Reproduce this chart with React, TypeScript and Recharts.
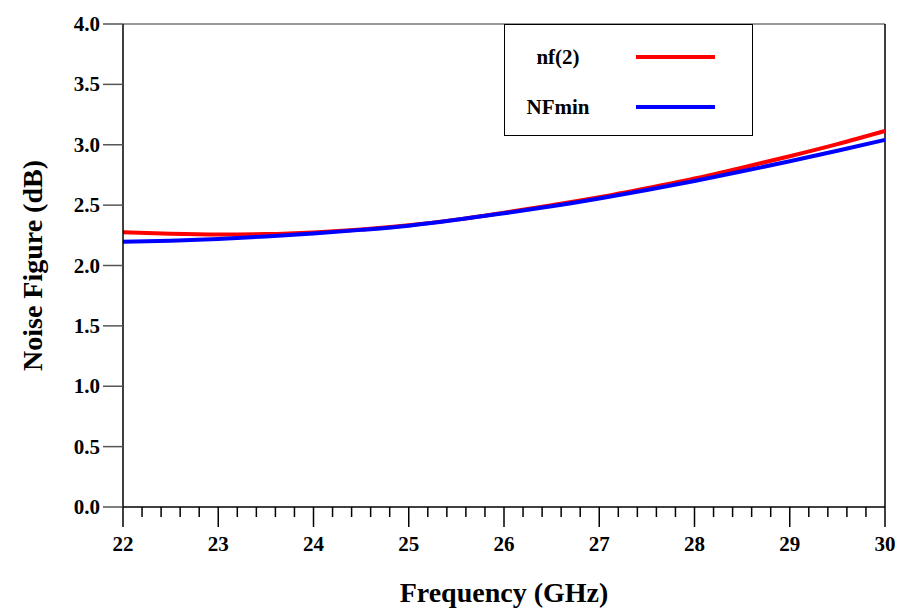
import React from 'react';
import { Line, LineChart, ReferenceLine, XAxis, YAxis } from 'recharts';

// frequency points (GHz)
const freq = [22, 22.5, 23, 23.5, 24, 24.5, 25, 25.5, 26, 26.5, 27, 27.5, 28, 28.5, 29, 29.5, 30];
// nf(2) in dB
const nf2 = [2.275, 2.262, 2.256, 2.26, 2.274, 2.298, 2.333, 2.38, 2.438, 2.5, 2.565, 2.64, 2.72, 2.81, 2.905, 3.005, 3.114];
// NFmin in dB
const nfMin = [2.197, 2.205, 2.22, 2.24, 2.265, 2.295, 2.33, 2.378, 2.433, 2.49, 2.555, 2.625, 2.7, 2.78, 2.863, 2.95, 3.04];

const xTicks = [
  22, 22.2, 22.4, 22.6, 22.8, 23, 23.2, 23.4, 23.6, 23.8, 24, 24.2, 24.4, 24.6, 24.8, 25,
  25.2, 25.4, 25.6, 25.8, 26, 26.2, 26.4, 26.6, 26.8, 27, 27.2, 27.4, 27.6, 27.8, 28,
  28.2, 28.4, 28.6, 28.8, 29, 29.2, 29.4, 29.6, 29.8, 30,
];
const yTicks = [0, 0.5, 1, 1.5, 2, 2.5, 3, 3.5, 4];

const seriesNames = ['nf(2)', 'NFmin'];
const seriesColors = ['#ff0000', '#0000ff'];

const data = freq.map((f, i) => ({ f, nf2: nf2[i], nfMin: nfMin[i] }));

const FONT = '"Liberation Serif", "Times New Roman", serif';

function XTick({ x, y, payload }: any) {
  const v = payload.value;
  const major = Math.abs(v - Math.round(v)) < 1e-6;
  return (
    <g>
      <line x1={x} x2={x} y1={y} y2={y + (major ? 20 : 10)} stroke="#000" strokeWidth={1.5} />
      {major && (
        <text x={x} y={y + 44} textAnchor="middle" fontFamily={FONT} fontWeight="bold" fontSize={21} fill="#000">
          {Math.round(v)}
        </text>
      )}
    </g>
  );
}

function YTick({ x, y, payload }: any) {
  return (
    <text x={x} y={y} dy={7} textAnchor="end" fontFamily={FONT} fontWeight="bold" fontSize={21} fill="#000">
      {payload.value.toFixed(1)}
    </text>
  );
}

function LegendBox() {
  return (
    <div
      style={{
        position: 'absolute',
        left: 504,
        top: 24,
        width: 249,
        height: 112,
        border: '1.5px solid #000',
        background: '#fff',
        fontFamily: FONT,
        fontWeight: 'bold',
        fontSize: 21,
        boxSizing: 'border-box',
      }}
    >
      {seriesNames.map((name, i) => (
        <div key={name} style={{ position: 'absolute', top: 19 + i * 50, left: 0, width: '100%', height: 26 }}>
          <span style={{ position: 'absolute', left: 8, width: 90, textAlign: 'center', lineHeight: '26px' }}>{name}</span>
          <span
            style={{
              position: 'absolute',
              left: 131,
              top: 11,
              width: 79,
              height: 4,
              background: seriesColors[i],
            }}
          />
        </div>
      ))}
    </div>
  );
}

export default function App() {
  return (
    <div style={{ position: 'absolute', left: 0, top: 0, width: 900, height: 610, background: '#fff' }}>
      <LineChart width={900} height={610} data={data} margin={{ top: 24, right: 15, bottom: 0, left: 0 }}>
        <XAxis
          dataKey="f"
          type="number"
          domain={[22, 30]}
          ticks={xTicks}
          interval={0}
          tick={<XTick />}
          tickLine={false}
          tickSize={0}
          tickMargin={0}
          height={103}
          axisLine={{ stroke: '#000', strokeWidth: 1.5 }}
          label={{
            value: 'Frequency (GHz)',
            position: 'insideBottom',
            offset: 8,
            style: { fontFamily: FONT, fontWeight: 'bold', fontSize: 28, fill: '#000' },
          }}
        />
        <YAxis
          type="number"
          domain={[0, 4]}
          ticks={yTicks}
          interval={0}
          width={123}
          tick={<YTick />}
          tickSize={20}
          tickMargin={3}
          tickLine={{ stroke: '#555', strokeWidth: 1.5 }}
          axisLine={{ stroke: '#000', strokeWidth: 1.5 }}
          label={{
            value: 'Noise Figure (dB)',
            angle: -90,
            position: 'insideLeft',
            offset: 32,
            style: { fontFamily: FONT, fontWeight: 'bold', fontSize: 28, fill: '#000', textAnchor: 'middle' },
          }}
        />
        <ReferenceLine y={4} stroke="#777" strokeWidth={1.5} />
        <ReferenceLine x={30} stroke="#000" strokeWidth={1.5} />
        <Line type="monotone" dataKey="nf2" name={seriesNames[0]} stroke={seriesColors[0]} strokeWidth={4} dot={false} isAnimationActive={false} />
        <Line type="monotone" dataKey="nfMin" name={seriesNames[1]} stroke={seriesColors[1]} strokeWidth={4} dot={false} isAnimationActive={false} />
      </LineChart>
      <LegendBox />
    </div>
  );
}
